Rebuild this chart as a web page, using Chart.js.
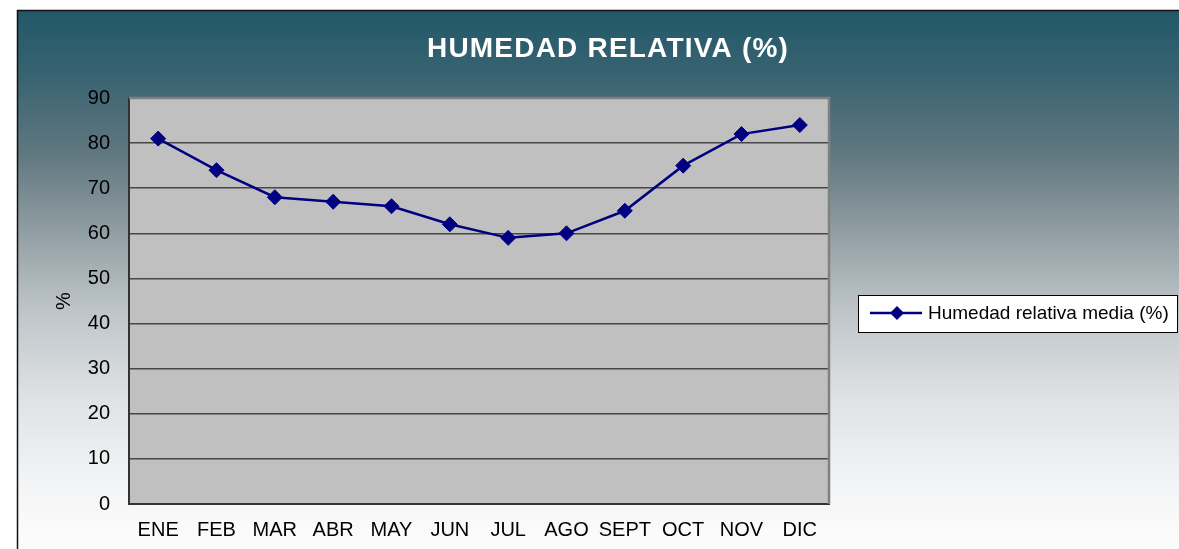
<!DOCTYPE html>
<html>
<head>
<meta charset="utf-8">
<script src="https://cdn.jsdelivr.net/npm/chart.js@4.4.0/dist/chart.umd.min.js"></script>
<style>
  html, body { margin: 0; padding: 0; background: #ffffff; }
  #wrap { width: 1179px; height: 549px; position: relative; }
</style>
</head>
<body>
<div id="wrap"><canvas id="c" width="1179" height="549"></canvas></div>
<script>
// ---- Data ----
const months = ['ENE', 'FEB', 'MAR', 'ABR', 'MAY', 'JUN', 'JUL', 'AGO', 'SEPT', 'OCT', 'NOV', 'DIC'];
const humedad = [81, 74, 68, 67, 66, 62, 59, 60, 65, 75, 82, 84];
const yTicks = [0, 10, 20, 30, 40, 50, 60, 70, 80, 90];
const chartTitle = 'HUMEDAD RELATIVA (%)';
const seriesLabel = 'Humedad relativa media (%)';
const yAxisTitle = '%';

const FONT = '"Liberation Sans", Arial, sans-serif';
const NAVY = '#000080';

const decorPlugin = {
  id: 'decor',
  beforeDraw(chart) {
    const ctx = chart.ctx;
    const W = chart.width, H = chart.height;
    ctx.save();
    ctx.fillStyle = '#ffffff';
    ctx.fillRect(0, 0, W, H);
    const x0 = 17, y0 = 10;
    const g = ctx.createLinearGradient(0, y0, 0, H);
    g.addColorStop(0.00, '#215868');
    g.addColorStop(0.12, '#386371');
    g.addColorStop(0.27, '#617880');
    g.addColorStop(0.42, '#94a0a5');
    g.addColorStop(0.55, '#bcc3c7');
    g.addColorStop(0.72, '#dfe2e4');
    g.addColorStop(0.88, '#f3f4f5');
    g.addColorStop(1.00, '#fdfdfd');
    ctx.fillStyle = g;
    ctx.fillRect(x0, y0, W - x0, H - y0);
    // outer border (top & left)
    ctx.strokeStyle = '#111111';
    ctx.lineWidth = 1.5;
    ctx.beginPath();
    ctx.moveTo(x0 + 0.5, H);
    ctx.lineTo(x0 + 0.5, y0 + 0.5);
    ctx.lineTo(W, y0 + 0.5);
    ctx.stroke();
    // plot background
    const a = chart.chartArea;
    ctx.fillStyle = '#c0c0c0';
    ctx.fillRect(a.left, a.top, a.right - a.left, a.bottom - a.top);
    // title
    ctx.fillStyle = '#ffffff';
    ctx.font = 'bold 28px ' + FONT;
    ctx.textAlign = 'center';
    ctx.textBaseline = 'alphabetic';
    try { ctx.letterSpacing = '1.2px'; } catch (e) {}
    ctx.fillText(chartTitle, 608, 57);
    try { ctx.letterSpacing = '0px'; } catch (e) {}
    ctx.restore();
  },
  afterDraw(chart) {
    const ctx = chart.ctx;
    const a = chart.chartArea;
    ctx.save();
    // plot border top/right (gray)
    ctx.strokeStyle = '#808080';
    ctx.lineWidth = 2.5;
    ctx.beginPath();
    ctx.moveTo(a.left, a.top);
    ctx.lineTo(a.right, a.top);
    ctx.lineTo(a.right, a.bottom);
    ctx.stroke();
    // legend box
    const bx = 858.5, by = 295.5, bw = 319, bh = 37;
    ctx.fillStyle = '#ffffff';
    ctx.fillRect(bx, by, bw, bh);
    ctx.strokeStyle = '#000000';
    ctx.lineWidth = 1;
    ctx.strokeRect(bx, by, bw, bh);
    // legend line + diamond
    const ly = 313;
    ctx.strokeStyle = NAVY;
    ctx.lineWidth = 2.5;
    ctx.beginPath();
    ctx.moveTo(870, ly);
    ctx.lineTo(922, ly);
    ctx.stroke();
    ctx.fillStyle = NAVY;
    const cx = 897, r = 7;
    ctx.beginPath();
    ctx.moveTo(cx - r, ly);
    ctx.lineTo(cx, ly - r);
    ctx.lineTo(cx + r, ly);
    ctx.lineTo(cx, ly + r);
    ctx.closePath();
    ctx.fill();
    // legend text
    ctx.fillStyle = '#000000';
    ctx.font = '19px ' + FONT;
    ctx.textAlign = 'left';
    ctx.textBaseline = 'alphabetic';
    ctx.fillText(seriesLabel, 928, 319);
    ctx.restore();
  }
};

new Chart(document.getElementById('c'), {
  type: 'line',
  data: {
    labels: months,
    datasets: [{
      label: seriesLabel,
      data: humedad,
      borderColor: NAVY,
      backgroundColor: NAVY,
      borderWidth: 2.5,
      tension: 0,
      fill: false,
      pointStyle: 'rectRot',
      pointRadius: 7.5,
      pointHoverRadius: 7.5,
      pointBackgroundColor: NAVY,
      pointBorderColor: NAVY,
      pointBorderWidth: 1
    }]
  },
  options: {
    responsive: false,
    devicePixelRatio: 1,
    animation: false,
    events: [],
    layout: { padding: { left: 17, top: 98, right: 350, bottom: 0 } },
    plugins: {
      legend: { display: false },
      title: { display: false },
      tooltip: { enabled: false }
    },
    scales: {
      x: {
        offset: true,
        grid: { display: false, drawTicks: false },
        border: { display: true, color: '#333333', width: 2 },
        ticks: {
          color: '#000000',
          font: { family: FONT, size: 20 },
          padding: 14,
          maxRotation: 0,
          autoSkip: false
        },
        afterFit(scale) { scale.height = 45; }
      },
      y: {
        min: 0,
        max: 90,
        afterBuildTicks(scale) { scale.ticks = yTicks.map(v => ({ value: v })); },
        grid: { color: '#474747', lineWidth: 1.5, drawTicks: false },
        border: { display: true, color: '#333333', width: 2 },
        ticks: {
          color: '#000000',
          font: { family: FONT, size: 20 },
          padding: 19
        },
        title: {
          display: true,
          text: yAxisTitle,
          color: '#000000',
          font: { family: FONT, size: 20 },
          padding: { top: 35, bottom: 0 }
        },
        afterFit(scale) { scale.width = 112; }
      }
    }
  },
  plugins: [decorPlugin]
});
</script>
</body>
</html>
